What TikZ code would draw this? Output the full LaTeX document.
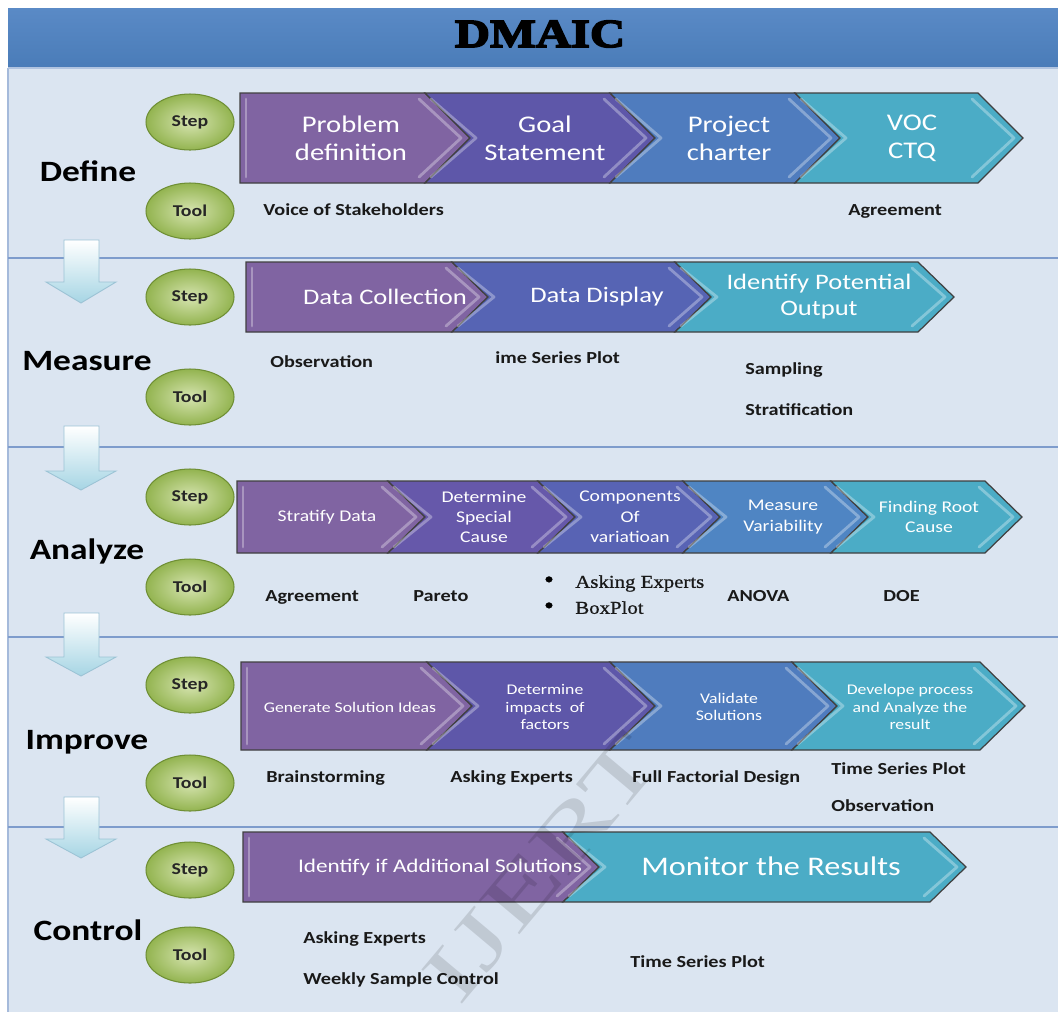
\documentclass[tikz,border=0pt]{standalone}
\usepackage{fontspec}
\setmainfont{Carlito}
\newfontfamily\calf[FakeStretch=1.2]{Carlito}
\newfontfamily\serf[FakeStretch=1.15,FakeBold=0.8]{Liberation Serif}
\newfontfamily\markf[FakeStretch=1.15]{Liberation Serif}
\newfontfamily\ttlf[FakeStretch=1.22,FakeBold=4]{Liberation Serif}
\usetikzlibrary{shapes.geometric}

\definecolor{bodybg}{HTML}{DBE5F1}
\definecolor{titletop}{HTML}{5A8AC6}
\definecolor{titlebot}{HTML}{4A7CB8}
\definecolor{sepline}{HTML}{7E9CCC}
\definecolor{arrowlo}{HTML}{A6D5E4}
\definecolor{arrowedge}{HTML}{9CC3D5}
\definecolor{ballhi}{HTML}{D6E4B0}
\definecolor{ballmid}{HTML}{93B450}
\definecolor{balledge}{HTML}{6F8F35}
\definecolor{cP}{HTML}{8064A2}
\definecolor{cV}{HTML}{5E57A9}
\definecolor{cB}{HTML}{4F7CBE}
\definecolor{cT}{HTML}{4BACC6}
\definecolor{cMV}{HTML}{5664B4}
\definecolor{cAii}{HTML}{6658AA}
\definecolor{cAiii}{HTML}{5863B4}
\definecolor{cAiv}{HTML}{4F85C3}
\definecolor{chevedge}{HTML}{404040}

% chevron: left x, body end x, top y, bottom y, point depth, colour, notched (1) or flat (0)
\newcommand{\chevron}[7]{%
  \pgfmathsetmacro\chvM{(#3+#4)/2}%
  \pgfmathsetmacro\chvT{#2+#5}%
  \pgfmathsetmacro\chvN{#1+#5*#7}%
  \filldraw[chevbox, fill=#6] (#1,#3) -- (#2,#3) -- (\chvT,\chvM) -- (#2,#4) -- (#1,#4) -- (\chvN,\chvM) -- cycle;
  \draw[bevel] (#2-6,#3+6) -- (\chvT-9,\chvM) -- (#2-6,#4-6);
  \draw[bevel] (#1+6,#3+6) -- (\chvN+6,\chvM) -- (#1+6,#4-6);
}
% block arrow between phases: top y, head base y, tip y
\newcommand{\phasearrow}[3]{%
  \shadedraw[top color=white, bottom color=arrowlo, draw=arrowedge, line width=0.5pt]
    (64,#1) -- (99,#1) -- (99,#2) -- (116,#2) -- (81,#3) -- (46,#2) -- (64,#2) -- cycle;
}

\begin{document}
\begin{tikzpicture}[x=0.02cm, y=-0.02cm,
  chevbox/.style={draw=chevedge, line width=0.7pt, line join=miter},
  bevel/.style={draw=white, opacity=0.32, line width=1.6pt, line join=round, line cap=round},
  ball/.style={ellipse, minimum width=1.76cm, minimum height=1.12cm, inner sep=0pt,
    draw=balledge, line width=0.6pt, inner color=ballhi, outer color=ballmid,
    font=\calf\bfseries\fontsize{9.4}{11}\selectfont, text=black!85},
  phase/.style={font=\calf\bfseries\fontsize{16.8}{20}\selectfont, text=black,
    text height=10.8pt, text depth=0pt, inner sep=0pt},
  tooltxt/.style={font=\calf\bfseries\fontsize{9.6}{11}\selectfont, text=black!90,
    anchor=west, inner sep=0pt, text height=6.2pt, text depth=0pt},
  sertxt/.style={font=\serf\fontsize{10.3}{12}\selectfont, text=black!90,
    anchor=west, inner sep=0pt, text height=6.6pt, text depth=0pt},
  bullet/.style={font=\serf\fontsize{14}{14}\selectfont, text=black, inner sep=0pt},
  chevtxt/.style={text=white, align=center, inner sep=0pt},
  cdef/.style={chevtxt, font=\calf\fontsize{13.6}{16}\selectfont},
  cmea/.style={chevtxt, font=\calf\fontsize{12.6}{14.7}\selectfont},
  cana/.style={chevtxt, font=\calf\fontsize{9.3}{11.6}\selectfont},
  cimp/.style={chevtxt, font=\calf\fontsize{8.4}{9.9}\selectfont},
  sepl/.style={draw=sepline, line width=0.8pt}
]
\useasboundingbox (0,0) rectangle (1058,1012);
\fill[white] (0,0) rectangle (1058,1012);

% body and title bar
\fill[bodybg] (8,68) rectangle (1058,1012);
\draw[sepline!70, line width=0.6pt] (8,68) -- (8,1012);
\shade[top color=titletop, bottom color=titlebot] (8,8) rectangle (1058,68);
\draw[sepline!60, line width=0.8pt] (8,68) -- (1058,68);
\node[font=\ttlf\bfseries\fontsize{22.7}{26}\selectfont, text=black, inner sep=0pt] (title) at (540,34) {DMAIC};

% phase separators
\foreach \sy in {258,447,637,827} \draw[sepl] (8,\sy) -- (1058,\sy);

% arrows between phases
\phasearrow{240}{282}{303}
\phasearrow{426}{471}{490}
\phasearrow{613}{657}{676}
\phasearrow{797}{839}{858}

% ---------------- Define
\node[phase] (define) at (88,172) {Define};
\node[ball] (dstep) at (190,122) {Step};
\node[ball] (dtool) at (190,211) {Tool};
\chevron{240}{425}{93}{183}{45}{cP}{0}
\chevron{425}{610}{93}{183}{45}{cV}{1}
\chevron{610}{795}{93}{183}{45}{cB}{1}
\chevron{795}{978}{93}{183}{45}{cT}{1}
\node[cdef] (d1) at (351,138) {Problem\\definition};
\node[cdef] (d2) at (545,138) {Goal\\Statement};
\node[cdef] (d3) at (729,138) {Project\\charter};
\node[cdef] (d4) at (912,138) {VOC\\CTQ};
\node[tooltxt] (dt1) at (263,210) {Voice of Stakeholders};
\node[tooltxt] (dt2) at (848,210) {Agreement};

% ---------------- Measure
\node[phase] (measure) at (87,361) {Measure};
\node[ball] (mstep) at (190,297) {Step};
\node[ball] (mtool) at (190,397) {Tool};
\chevron{246}{452}{262}{332}{36}{cP}{0}
\chevron{452}{675}{262}{332}{36}{cMV}{1}
\chevron{675}{918}{262}{332}{36}{cT}{1}
\node[cmea] (m1) at (385,297) {Data Collection};
\node[cmea] (m2) at (597,297) {Data Display};
\node[cmea] (m3) at (819,297) {Identify Potential\\Output};
\node[tooltxt] (mt1) at (270,362) {Observation};
\node[tooltxt] (mt2) at (495,358) {ime Series Plot};
\node[tooltxt] (mt3) at (745,369) {Sampling};
\node[tooltxt] (mt4) at (745,410) {Stratification};

% ---------------- Analyze
\node[phase] (analyze) at (87,550) {Analyze};
\node[ball] (astep) at (190,497) {Step};
\node[ball] (atool) at (190,587) {Tool};
\chevron{237}{388}{481}{553}{37}{cP}{0}
\chevron{388}{538}{481}{553}{37}{cAii}{1}
\chevron{538}{683}{481}{553}{37}{cAiii}{1}
\chevron{683}{831}{481}{553}{37}{cAiv}{1}
\chevron{831}{985}{481}{553}{37}{cT}{1}
\node[cana] (a1) at (327,517) {Stratify Data};
\node[cana] (a2) at (484,517) {Determine\\Special\\Cause};
\node[cana] (a3) at (630,517) {Components\\Of\\variatioan};
\node[cana] (a4) at (783,517) {Measure\\Variability};
\node[cana] (a5) at (929,517) {Finding Root\\Cause};
\node[tooltxt] (at1) at (265,596) {Agreement};
\node[tooltxt] (at2) at (413,596) {Pareto};
\node[bullet] (ab1) at (549,582) {•};
\node[bullet] (ab2) at (549,608) {•};
\node[sertxt] (at3) at (575,582) {Asking Experts};
\node[sertxt] (at4) at (575,608) {BoxPlot};
\node[tooltxt] (at5) at (727,596) {ANOVA};
\node[tooltxt] (at6) at (883,596) {DOE};

% ---------------- Improve
\node[phase] (improve) at (87,740) {Improve};
\node[ball] (istep) at (190,685) {Step};
\node[ball] (itool) at (190,783) {Tool};
\chevron{241}{427}{662}{750}{45}{cP}{0}
\chevron{427}{610}{662}{750}{45}{cV}{1}
\chevron{610}{792}{662}{750}{45}{cB}{1}
\chevron{792}{980}{662}{750}{45}{cT}{1}
\node[cimp] (i1) at (350,707) {Generate Solution Ideas};
\node[cimp] (i2) at (545,707) {Determine\\impacts\ \ of\\factors};
\node[cimp] (i3) at (729,707) {Validate\\Solutions};
\node[cimp] (i4) at (910,707) {Develope process\\and Analyze the\\result};
\node[tooltxt] (it1) at (266,777) {Brainstorming};
\node[tooltxt] (it2) at (450,777) {Asking Experts};
\node[tooltxt] (it3) at (632,777) {Full Factorial Design};
\node[tooltxt] (it4) at (831,769) {Time Series Plot};
\node[tooltxt] (it5) at (831,806) {Observation};

% ---------------- Control
\node[phase] (control) at (88,931) {Control};
\node[ball] (cstep) at (190,870) {Step};
\node[ball] (ctool) at (190,955) {Tool};
\chevron{243}{563}{832}{902}{36}{cP}{0}
\chevron{563}{930}{832}{902}{36}{cT}{1}
\node[chevtxt, font=\calf\fontsize{11}{13}\selectfont] (c1) at (440,867) {Identify if Additional Solutions};
\node[chevtxt, font=\calf\fontsize{15.3}{18}\selectfont] (c2) at (771,866) {Monitor the Results};
\node[tooltxt] (ct1) at (303,938) {Asking Experts};
\node[tooltxt] (ct2) at (303,979) {Weekly Sample Control};
\node[tooltxt] (ct3) at (630,962) {Time Series Plot};

% publisher mark
\begin{scope}[shift={(542,868)}]
  \node[rotate=50, xscale=1.35, transform shape, font=\markf\fontsize{46}{46}\selectfont,
        text=black, opacity=0.12, inner sep=0pt] (mark) at (0,0) {IJERT};
\end{scope}
\end{tikzpicture}
\end{document}
